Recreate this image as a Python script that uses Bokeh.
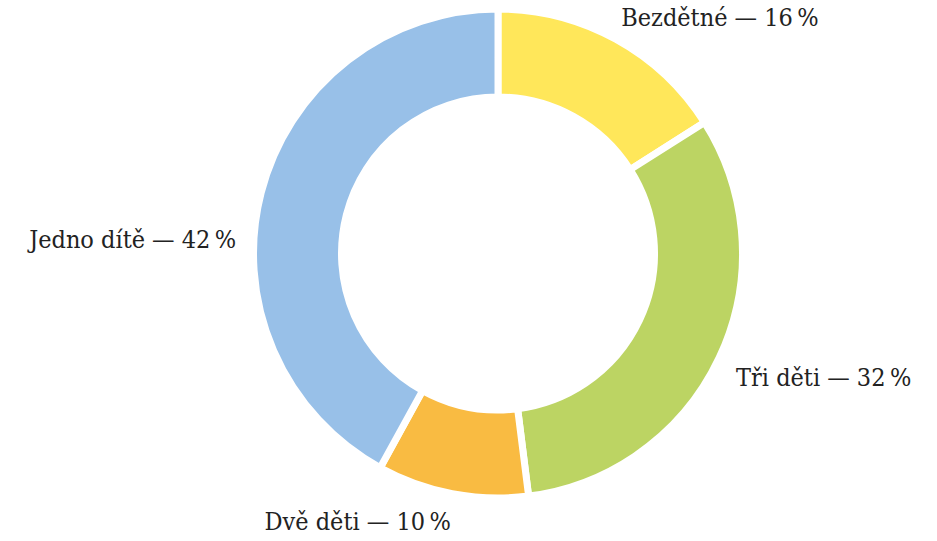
import math
from bokeh.plotting import figure
from bokeh.models import ColumnDataSource, Range1d
from bokeh.core.properties import value
from bokeh.embed import file_html
from bokeh.resources import INLINE

categories = ["Bezdětné", "Tři děti", "Dvě děti", "Jedno dítě"]
shares = [16, 32, 10, 42]
colors = ["#FFE75A", "#BCD463", "#F9BB42", "#98C0E8"]

W, H = 921, 541
CX, CY = 497.5, H - 253
R_OUT, R_IN = 244.5, 156.5
GAP = 7

# label placement: radius, alignment, pixel offsets
label_radius = [262, 262, 262, 262]
label_align = ["left", "left", "right", "right"]
label_dx = [-3, 1, 2, -8]
label_dy = [6, -12, -11, -51]

total = sum(shares)
starts, ends, mids = [], [], []
a = math.pi / 2
for s in shares:
    span = 2 * math.pi * s / total
    starts.append(a)
    ends.append(a - span)
    mids.append(a - span / 2)
    a -= span

src = ColumnDataSource(dict(
    x=[CX] * len(shares), y=[CY] * len(shares),
    start=ends, end=starts, color=colors,
))

p = figure(width=W, height=H, output_backend="svg", toolbar_location=None,
           x_range=Range1d(0, W), y_range=Range1d(0, H), min_border=0)
p.axis.visible = False
p.grid.visible = False
p.outline_line_color = None
p.background_fill_color = "white"

p.annular_wedge(x="x", y="y", inner_radius=R_IN, outer_radius=R_OUT,
                start_angle="start", end_angle="end", fill_color="color",
                line_color="white", line_width=GAP, source=src)

lx, ly, txt = [], [], []
for c, s, m, r, dx, dy in zip(categories, shares, mids, label_radius, label_dx, label_dy):
    lx.append(CX + r * math.cos(m) + dx)
    ly.append(CY + r * math.sin(m) + dy)
    txt.append(f"{c} — {s}\u2009%")

lsrc = ColumnDataSource(dict(x=lx, y=ly, text=txt, align=label_align))
p.text(x="x", y="y", text="text", text_align="align", text_baseline="middle",
       text_font=value("DejaVu Serif Condensed"), text_font_size="25px",
       text_color="#222222", source=lsrc)

open("out.html", "w").write(file_html(p, INLINE))
